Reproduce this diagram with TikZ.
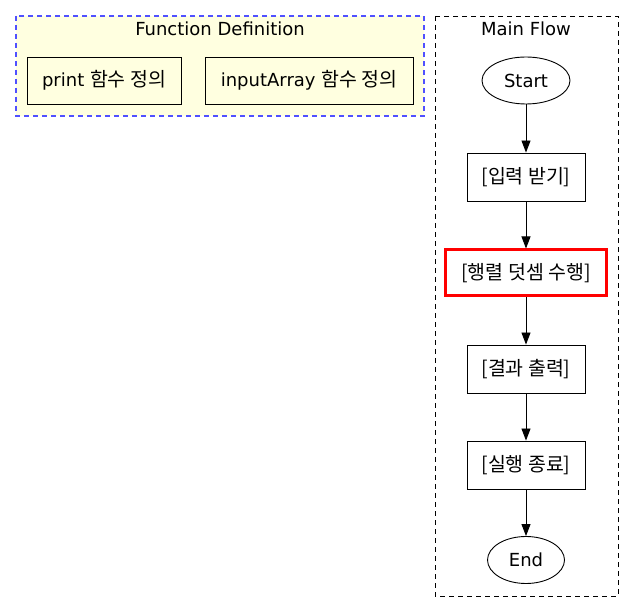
\documentclass[tikz,border=0pt]{standalone}
\usepackage{fontspec}
\setmainfont{DejaVu Sans}
\newfontfamily\kr[Scale=1.08]{Noto Sans CJK KR}
\usetikzlibrary{arrows.meta,shapes.geometric}
\definecolor{clusteryellow}{RGB}{255,255,224}
\definecolor{clusterblue}{RGB}{80,80,255}
\tikzset{
  cluster/.style={line width=0.9pt, dash pattern=on 5pt off 4pt},
  fnbox/.style={draw, line width=0.9pt, minimum height=47pt, inner sep=0pt},
  stepbox/.style={draw, line width=0.9pt, minimum width=118pt, minimum height=48pt, inner sep=0pt},
  endpoint/.style={draw, ellipse, line width=0.9pt, minimum width=88pt, minimum height=47pt, inner sep=0pt},
  flow/.style={->, line width=0.9pt}
}
\begin{document}
\begin{tikzpicture}[x=1pt, y=-1pt, font=\fontsize{18}{22}\selectfont,
  >={Triangle[length=12pt,width=9pt]}]
   \useasboundingbox (0,0) rectangle (635,612);
   % function definition cluster
   \draw[cluster, clusterblue, line width=1.5pt, fill=clusteryellow] (16,16) rectangle (424,116);
   \node (fdtitle) at (220,29) {Function Definition};
   \node[fnbox, minimum width=154pt] (printdef) at (104,80.5) {print {\kr 함수 정의}};
   \node[fnbox, minimum width=208pt] (inputdef) at (309,80.5) {inputArray {\kr 함수 정의}};
  %
   % main flow cluster
   \draw[cluster] (435,16) rectangle (618,596);
   \node (mftitle) at (526,29) {Main Flow};
   \node[endpoint] (start) at (526,80.5) {Start};
   \node[stepbox] (input) at (526,177) {{\kr [입력 받기]}};
   \node[stepbox, draw=red, line width=3pt, minimum width=161pt, minimum height=46pt] (add) at (526,273) {{\kr [행렬 덧셈 수행]}};
   \node[stepbox] (output) at (526,369) {{\kr [결과 출력]}};
   \node[stepbox] (finish) at (526,465) {{\kr [실행 종료]}};
   \node[endpoint, minimum width=77pt] (end) at (526,560) {End};
  %
   \draw[flow] (start) -- (input);
   \draw[flow] (input) -- (add);
   \draw[flow] (add) -- (output);
   \draw[flow] (output) -- (finish);
   \draw[flow] (finish) -- (end);
\end{tikzpicture}
\end{document}
